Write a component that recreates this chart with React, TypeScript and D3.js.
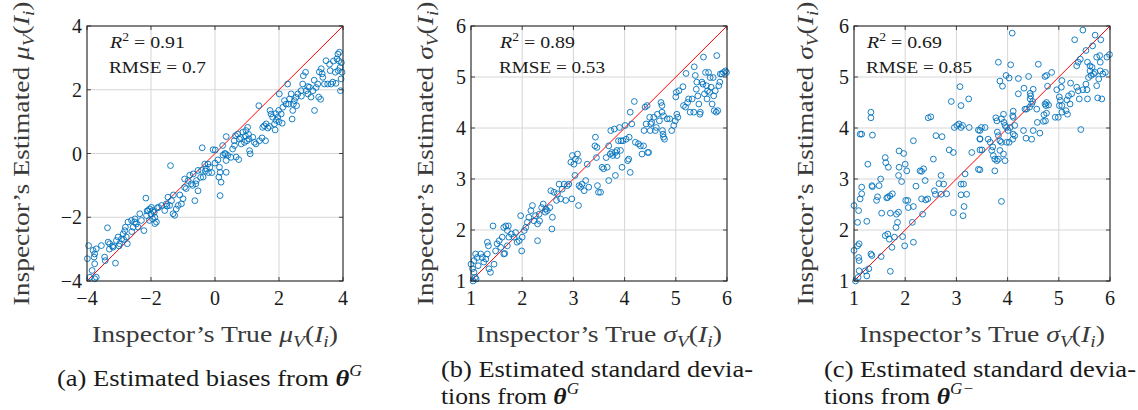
import React from "react";
import * as d3 from "d3";

// ---------- data ----------
const biasPoints: [number, number][] = [
  [-3.95,-2.89],[-3.81,-3.04],[-3.76,-3.15],[-3.71,-2.99],[-3.78,-3.25],[-3.99,-3.3],[-3.76,-3.46],[-3.84,-3.67],[-3.91,-3.88],[-3.71,-3.88],[-3.76,-3.93],
  [-3.55,-2.89],[-3.45,-3.25],[-3.43,-3.36],[-3.34,-2.78],[-3.36,-2.33],[-3.29,-2.83],[-3.19,-2.94],[-3.08,-2.73],[-3.11,-3.44],[-3.03,-2.62],[-2.98,-2.83],[-2.92,-2.68],[-2.87,-2.52],[-2.82,-2.42],[-2.8,-2.31],[-2.77,-2.62],[-2.72,-2.15],[-2.74,-2.83],
  [-2.61,-2.1],[-2.56,-2.31],[-2.51,-2.15],[-2.46,-2.21],[-2.4,-2.31],[-2.35,-1.89],[-2.3,-2.1],[-2.22,-2.42],[-2.16,-1.4],[-2.14,-1.95],[-2.09,-1.79],[-2.04,-1.74],[-1.99,-1.69],[-1.94,-1.79],[-1.88,-2.0],[-1.83,-2.15],[-1.88,-2.2],
  [-1.76,-1.69],[-1.67,-1.63],[-1.57,-1.79],[-1.52,-1.58],[-1.47,-1.37],[-1.42,-1.63],[-1.36,-1.48],[-1.31,-1.89],[-1.39,-0.38],
  [-1.26,-1.94],[-1.21,-1.74],[-1.15,-1.63],[-1.05,-1.58],[-1.0,-1.42],[-0.95,-1.06],[-0.95,-0.8],[-0.84,-0.85],[-0.79,-0.68],[-0.74,-0.95],[-0.68,-0.64],[-0.63,-1.48],[-0.58,-0.85],[-0.53,-0.53],[-0.42,-0.53],[-0.37,-0.74],[-0.53,-1.17],[-0.32,-0.33],[-0.27,-0.48],[-0.22,-0.33],[-0.16,-0.43],[-0.4,0.18],[-0.06,0.12],
  [0.01,0.11],[0.09,-0.2],[0.14,-0.43],[0.16,-0.59],[0.12,-0.74],[0.19,-0.9],[0.16,-1.32],[0.24,0.25],[0.35,0.53],[0.33,-0.01],[0.35,-0.22],[0.35,-0.59],[0.4,-0.06],[0.5,-0.12],[0.55,0.14],[0.61,0.25],[0.64,0.56],[0.66,-0.11],[0.74,-0.19],[0.71,0.61],[0.76,0.45],[0.82,0.3],[0.87,0.67],[0.92,0.35],[0.97,0.72],[1.02,0.82],[1.06,0.46],[1.08,0.09],[1.1,-0.01],[1.18,0.51],[1.23,0.35],[1.28,0.3],[1.37,1.5],[1.39,0.4],[1.47,0.49],[1.49,0.82],[1.54,0.87],[1.58,0.4],[1.6,0.93],[1.72,1.35],[1.75,1.24],[1.8,1.14],[1.86,0.93],[1.88,0.74],[1.91,1.04],[1.96,1.14],[1.99,1.35],[2.01,1.87],[2.07,1.24],[2.12,1.45],[2.17,1.66],[2.22,1.55],[2.27,2.18],[2.33,1.71],[2.38,1.87],[2.41,1.08],[2.43,1.35],[2.45,1.55],[2.48,1.66],[2.53,1.76],[2.59,1.87],
  [2.69,1.97],[2.74,2.18],[2.76,2.44],[2.83,2.55],[2.85,1.97],[2.9,1.87],[2.95,2.08],[3.0,1.77],[3.06,1.97],[3.11,1.35],[3.16,2.07],[3.21,2.18],[3.24,1.77],[3.26,2.56],[3.32,2.66],[3.37,2.39],[3.42,2.18],[3.47,2.91],[3.52,2.18],[3.58,2.8],[3.63,2.18],[3.68,2.24],[3.76,2.55],[3.81,2.97],[3.84,3.12],[3.89,3.18],[3.87,2.91],[3.91,2.7],[3.94,2.34],[3.92,1.97],[3.97,2.55],
  [-2.0,-1.9],[-1.95,-2.05],[-2.05,-2.1],[-1.9,-1.85],[-2.12,-1.8],[-1.8,-1.7],[3.6,2.6],[3.7,2.9],[3.78,2.2],[3.95,2.85],[3.85,2.6],[3.3,1.7],[3.35,2.5],[3.1,2.3],[2.9,2.1],[2.7,1.8],[2.55,1.5],[2.3,1.55],[2.0,1.0],[2.1,0.95],[1.9,1.25],[1.7,0.85],[1.65,0.8],[1.0,0.4],[1.05,0.6],[0.95,0.55],[0.8,0.5],[0.6,0.4],[0.3,0.0],[0.25,-0.05],[0.0,-0.3],[-0.1,-0.6],[-0.2,-0.6],[-0.3,-0.55],[-0.45,-0.75],[-0.6,-0.95],[-0.7,-1.0],[-0.9,-1.1],[-1.1,-1.3],[-1.3,-1.3],[-1.5,-1.65],[-2.5,-2.05],[-2.6,-2.45],[-2.85,-2.7],[-3.0,-2.9],[-3.2,-2.9],[-3.3,-3.0],
];

const sdPointsG: [number, number][] = [
  [1.0,1.33],[1.03,1.24],[1.06,1.17],[1.08,1.07],[1.1,1.04],[1.09,1.53],[1.12,1.46],[1.06,1.4],[1.14,1.3],[1.04,1.0],
  [1.19,1.53],[1.22,1.46],[1.25,1.37],[1.29,1.43],[1.32,1.53],[1.35,1.24],[1.38,1.17],[1.34,1.69],[1.32,1.76],[1.43,2.08],[1.45,1.33],
  [1.48,1.59],[1.51,1.73],[1.55,1.79],[1.58,1.66],[1.61,1.86],[1.64,2.05],[1.68,2.08],[1.71,1.99],[1.73,2.08],[1.66,1.54],[1.64,1.53],[1.71,1.69],
  [1.74,1.86],[1.79,1.92],[1.84,1.86],[1.87,1.95],[1.9,1.76],[1.94,1.79],[1.97,2.28],[1.99,1.59],[2.0,1.86],[2.04,1.99],
  [2.07,2.05],[2.1,2.15],[2.13,2.25],[2.17,2.38],[2.2,2.48],[2.23,2.18],[2.26,2.28],[2.3,2.12],[2.3,1.79],[2.33,2.31],[2.34,2.18],[2.38,2.44],[2.41,2.51],[2.45,2.35],[2.46,2.41],[2.49,2.38],[2.54,2.44],[2.58,2.02],[2.59,2.25],
  [2.56,2.77],[2.62,2.74],[2.67,2.58],[2.69,2.71],[2.72,2.9],[2.75,2.61],[2.78,2.8],[2.82,2.9],[2.85,2.58],[2.88,2.87],[2.91,2.9],[2.97,2.61],
  [2.95,3.33],[2.98,3.46],[3.01,3.29],[3.04,3.39],[3.08,3.49],[3.1,3.36],[3.03,3.07],[3.1,2.48],[3.11,2.87],[3.14,2.84],[3.17,2.9],[3.21,2.77],[3.24,2.97],[3.27,3.29],[3.3,2.84],
  [3.43,3.82],[3.42,3.65],[3.45,3.42],[3.47,2.87],
  [3.46,3.62],[3.49,2.74],[3.53,2.74],[3.56,3.23],[3.59,3.2],[3.64,3.42],[3.66,3.23],[3.69,3.65],[3.69,2.97],[3.72,3.49],[3.73,3.95],[3.75,3.52],[3.77,3.46],[3.8,3.98],[3.82,3.52],[3.82,3.07],[3.85,3.56],[3.85,3.46],[3.88,3.75],[3.9,4.01],[3.92,3.56],[3.93,3.75],[3.95,3.23],[3.97,3.75],[4.01,4.05],[4.03,3.78],[4.06,3.36],[4.08,3.39],[4.09,3.82],[4.11,3.13],[4.11,4.31],[4.14,4.08],[4.19,4.52],[4.21,3.72],[4.27,3.69],[4.31,3.65],[4.34,3.49],[4.37,3.65],[4.38,3.95],[4.4,4.41],[4.42,4.08],[4.44,4.44],[4.45,3.52],[4.47,3.52],[4.49,4.21],[4.5,3.95],[4.51,4.08],[4.53,4.11],[4.57,4.21],[4.6,3.95],[4.62,4.01],[4.64,4.27],[4.68,4.14],[4.71,4.5],[4.73,4.44],[4.73,4.31],[4.74,3.95],[4.75,3.88],[4.76,3.82],[4.78,3.78],[4.76,4.24],[4.83,4.18],[4.88,4.18],[4.92,3.95],[4.96,4.05],[4.99,4.14],[5.0,4.61],[5.01,4.7],[5.02,4.27],[5.04,4.21],[5.06,4.73],[5.14,4.81],[5.15,4.44],[5.19,4.41],[5.2,5.07],[5.23,4.5],[5.25,4.57],[5.28,4.31],[5.32,4.57],[5.35,4.31],[5.36,5.2],[5.38,5.03],[5.4,4.76],[5.41,4.9],[5.43,4.63],[5.45,4.47],[5.47,4.27],[5.48,4.31],[5.51,4.9],[5.53,4.86],[5.54,5.39],[5.56,4.67],[5.58,5.09],[5.6,4.83],[5.61,4.57],[5.62,4.73],[5.64,5.09],[5.66,4.7],[5.67,4.99],[5.69,4.8],[5.71,4.47],[5.73,4.99],[5.74,4.63],[5.75,4.34],[5.77,4.73],[5.79,4.31],[5.8,5.42],[5.82,4.34],[5.84,4.83],[5.86,4.9],[5.87,5.06],[5.9,5.06],[5.93,5.09],[5.97,5.12],[5.99,5.09],
];

const sdPointsGminus: [number, number][] = [
  [1.03,1.0],[1.08,1.07],[1.1,1.2],[1.25,1.1],[1.22,1.2],[1.29,1.24],[1.0,1.6],[1.07,1.69],[1.1,1.73],[1.09,1.46],[1.1,1.4],[1.33,1.53],[1.35,1.5],[1.53,1.48],[1.71,1.19],[1.74,1.66],[1.61,1.89],[1.66,1.92],[1.69,1.82],[1.82,2.05],[1.85,2.15],[1.79,1.86],[1.95,1.87],[1.99,1.69],[2.16,1.76],[2.14,2.15],
  [1.0,2.48],[1.07,2.15],[1.09,2.38],[1.12,2.61],[1.15,2.71],[1.15,2.84],[1.25,2.17],[1.35,2.87],[1.44,2.58],[1.46,2.65],[1.54,2.33],[1.64,2.63],[1.66,2.64],[1.7,2.67],[1.75,2.71],[1.71,2.33],[1.83,2.31],[1.87,2.35],[1.52,3.0],[1.49,2.87],[1.36,2.85],
  [1.27,3.29],[1.61,3.42],[1.62,3.32],[1.67,3.23],[1.88,3.55],[1.97,3.5],[1.87,3.07],[1.93,2.95],[2.03,3.16],[2.01,2.58],[2.05,2.58],[2.06,2.44],[2.16,2.46],[2.21,2.86],[2.29,3.16],[2.36,3.2],[2.39,2.97],[2.32,2.61],[2.4,2.59],[2.44,2.61],[2.34,2.31],
  [1.12,3.88],[1.15,3.88],[1.36,3.86],[1.33,4.31],[1.33,4.2],[2.16,3.75],[1.88,3.23],[2.0,3.29],[2.32,3.15],
  [2.59,2.7],[2.57,2.77],[2.66,2.91],[2.7,2.7],[2.75,2.9],[2.81,2.71],[2.7,3.07],[2.94,2.34],[2.55,3.39],
  [2.45,4.2],[2.5,4.22],[2.6,3.85],[2.72,3.83],[2.86,3.57],[2.94,3.52],[2.9,4.52],[3.07,4.81],[3.09,4.44],[3.24,4.57],[2.96,4.01],[3.01,4.05],[3.05,4.08],[3.09,4.01],[3.12,4.05],[3.25,4.01],[3.3,3.52],[3.43,3.96],[3.46,3.79],[3.5,3.57],[3.43,3.19],[3.09,2.9],[3.14,2.9],[3.17,3.1],[3.09,2.69],[3.2,2.7],[3.15,2.46],[3.13,2.28],
  [4.09,5.86],[5.47,5.92],[5.31,5.73],[5.71,5.82],[5.82,5.73],[3.82,5.29],[4.06,5.24],[4.6,5.25],[3.97,5.03],[4.03,4.98],[3.85,4.92],[3.9,4.82],[4.21,4.97],[4.41,5.01],[4.73,5.01],[4.76,5.03],[4.86,5.09],[4.78,4.82],[4.32,4.78],[4.5,4.76],[4.44,4.68],[4.21,4.67],[4.45,4.63],[4.44,4.57],[5.06,4.93],[5.05,4.8],[4.96,4.75],[5.23,4.88],[5.25,4.67],[5.19,4.63],[5.16,4.55],[5.01,4.61],[5.03,4.54],[5.01,4.44],[5.06,4.44],[5.22,4.47],[5.14,4.34],[5.17,4.27],[4.93,4.21],[4.99,4.21],[5.06,4.31],
  [4.73,4.47],[4.76,4.5],[4.75,4.44],[4.8,4.45],[4.71,4.26],[4.76,4.29],[4.58,4.11],[4.7,4.13],[4.74,4.14],[4.57,4.37],[4.47,4.47],[4.43,4.41],[4.49,4.52],[4.34,4.37],[4.37,4.37],[4.11,4.33],[4.1,4.24],[4.14,4.05],[4.11,4.21],[3.92,4.27],[3.88,4.18],[3.77,4.2],[3.79,4.14],[3.93,4.11],[3.95,4.05],[3.98,4.01],[4.05,4.01],[4.11,3.88],[4.01,3.95],[4.14,3.85],[4.1,3.78],[4.03,3.72],[3.98,3.72],[3.88,3.72],[3.85,3.75],[3.8,3.92],[3.82,3.85],
  [3.56,4.01],[3.49,4.01],[3.46,3.95],[3.46,3.78],[3.46,3.57],[3.62,3.78],[3.66,3.72],[3.71,3.63],[3.69,3.56],[3.72,3.46],[3.75,3.39],[3.79,3.36],[3.82,3.39],[3.85,3.56],[3.92,3.49],[3.95,3.36],[3.75,3.16],[3.88,2.56],[3.46,3.18],
  [4.31,3.95],[4.36,3.8],[4.47,3.78],[4.5,3.95],[4.63,3.9],[5.43,3.97],
  [5.35,4.8],[5.38,4.73],[5.4,4.57],[5.47,4.75],[5.55,4.75],[5.56,4.57],[5.53,4.86],[5.58,4.99],[5.61,5.12],[5.65,5.19],[5.68,5.06],[5.71,5.09],[5.74,4.83],[5.78,4.96],[5.81,5.12],[5.84,4.57],[5.76,4.59],[5.86,5.06],[5.91,5.09],[5.94,5.39],[5.99,5.44],[5.8,5.42],[5.74,5.39],[5.81,5.29],[5.61,5.22],[5.53,5.52],[5.56,5.29],[5.63,5.03],[5.66,5.61],[5.38,5.29],[5.35,5.22],[5.42,5.35],
];

const biasTicks = [-4, -2, 0, 2, 4];
const sdTicks = [1, 2, 3, 4, 5, 6];
const r2Labels = ["0.91", "0.89", "0.69"];
const rmseLabels = ["0.7", "0.53", "0.85"];

// ---------- layout ----------
const W = 1138, H = 410;
const PT = 26, PH = 255, PW = 256;
const FONT = "'Liberation Serif', 'Times New Roman', serif";
const BLUE = "#0072BD";
const TXT = "#1a1a1a";

type PanelCfg = {
  left: number; domain: [number, number]; ticks: number[]; data: [number, number][];
  sym: string; statDx: number; ylabX: number; r2: string; rmse: string;
};

const panels: PanelCfg[] = [
  { left: 87, domain: [-4, 4], ticks: biasTicks, data: biasPoints, sym: "μ", statDx: 23, ylabX: 29, r2: r2Labels[0], rmse: rmseLabels[0] },
  { left: 471, domain: [1, 6], ticks: sdTicks, data: sdPointsG, sym: "σ", statDx: 29, ylabX: 433, r2: r2Labels[1], rmse: rmseLabels[1] },
  { left: 854, domain: [1, 6], ticks: sdTicks, data: sdPointsGminus, sym: "σ", statDx: 13, ylabX: 813, r2: r2Labels[2], rmse: rmseLabels[2] },
];

const fmt = (v: number) => (v < 0 ? "\u2212" + Math.abs(v) : String(v));

function MathVI({ sym, size }: { sym: string; size: number }) {
  const s = size * 0.7;
  const d = size * 0.22;
  return (
    <>
      <tspan fontStyle="italic">{sym}</tspan>
      <tspan fontStyle="italic" fontSize={s} dy={d}>V</tspan>
      <tspan dy={-d}>(</tspan>
      <tspan fontStyle="italic">I</tspan>
      <tspan fontStyle="italic" fontSize={s} dy={d}>i</tspan>
      <tspan dy={-d}>)</tspan>
    </>
  );
}

function Panel({ p }: { p: PanelCfg }) {
  const x = d3.scaleLinear().domain(p.domain).range([p.left, p.left + PW]);
  const y = d3.scaleLinear().domain(p.domain).range([PT + PH, PT]);
  const cx = p.left + PW / 2;
  const cy = PT + PH / 2;
  const tl = 4;
  return (
    <g>
      {p.ticks.map((t) => (
        <g key={"g" + t}>
          <line x1={x(t)} x2={x(t)} y1={PT} y2={PT + PH} stroke="#d6d6d6" strokeWidth={1} />
          <line x1={p.left} x2={p.left + PW} y1={y(t)} y2={y(t)} stroke="#d6d6d6" strokeWidth={1} />
        </g>
      ))}
      {p.ticks.map((t) => (
        <g key={"t" + t} stroke="#444" strokeWidth={1}>
          <line x1={x(t)} x2={x(t)} y1={PT + PH} y2={PT + PH - tl} />
          <line x1={x(t)} x2={x(t)} y1={PT} y2={PT + tl} />
          <line x1={p.left} x2={p.left + tl} y1={y(t)} y2={y(t)} />
          <line x1={p.left + PW} x2={p.left + PW - tl} y1={y(t)} y2={y(t)} />
        </g>
      ))}
      <line x1={x(p.domain[0])} y1={y(p.domain[0])} x2={x(p.domain[1])} y2={y(p.domain[1])} stroke="#ff0000" strokeWidth={1} />
      {p.data.map((d, i) => (
        <circle key={i} cx={x(d[0])} cy={y(d[1])} r={2.9} fill="none" stroke={BLUE} strokeWidth={0.9} />
      ))}
      <rect x={p.left} y={PT} width={PW} height={PH} fill="none" stroke={TXT} strokeWidth={1} />
      {p.ticks.map((t) => (
        <text key={"xl" + t} x={x(t)} y={305} textAnchor="middle" fontSize={20} fill={TXT} fontFamily={FONT}>{fmt(t)}</text>
      ))}
      {p.ticks.map((t) => (
        <text key={"yl" + t} x={p.left - 5} y={y(t) + 7} textAnchor="end" fontSize={20} fill={TXT} fontFamily={FONT}>{fmt(t)}</text>
      ))}
      <text x={p.left + p.statDx} y={48} fontSize={17.5} fill={TXT} fontFamily={FONT} textLength={75} lengthAdjust="spacingAndGlyphs">
        <tspan fontStyle="italic">R</tspan>
        <tspan fontSize={12} dy={-7}>2</tspan>
        <tspan dy={7}>{" = " + p.r2}</tspan>
      </text>
      <text x={p.left + p.statDx - 1} y={73} fontSize={17.5} fill={TXT} fontFamily={FONT} textLength={p.rmse.length === 3 ? 97 : 106} lengthAdjust="spacingAndGlyphs">{"RMSE = " + p.rmse}</text>
      <text x={cx} y={342} textAnchor="middle" fontSize={24} fill="#3a3a3a" fontFamily={FONT} textLength={246} lengthAdjust="spacingAndGlyphs">
        <tspan>Inspector’s True </tspan>
        <MathVI sym={p.sym} size={24} />
      </text>
      <text transform={`translate(${p.ylabX},${cy}) rotate(-90)`} textAnchor="middle" fontSize={24} fill="#3a3a3a" fontFamily={FONT} textLength={304} lengthAdjust="spacingAndGlyphs">
        <tspan>Inspector’s Estimated </tspan>
        <MathVI sym={p.sym} size={24} />
      </text>
    </g>
  );
}

function Theta({ sup }: { sup: string }) {
  return (
    <>
      <tspan fontStyle="italic" fontWeight="bold">θ</tspan>
      <tspan fontStyle="italic" fontSize={16} dy={-10}>{sup}</tspan>
    </>
  );
}

export default function App() {
  return (
    <svg width={W} height={H} style={{ position: "absolute", left: 0, top: 0, background: "#fff" }}>
      <rect x={0} y={0} width={W} height={H} fill="#fff" />
      {panels.map((p, i) => (
        <Panel key={i} p={p} />
      ))}
      <text x={57} y={386} fontSize={24} fill={TXT} fontFamily={FONT} textLength={305} lengthAdjust="spacingAndGlyphs">
        <tspan>(a) Estimated biases from </tspan>
        <Theta sup="G" />
      </text>
      <text x={441} y={377} fontSize={24} fill={TXT} fontFamily={FONT} textLength={312} lengthAdjust="spacingAndGlyphs">(b) Estimated standard devia-</text>
      <text x={441} y={404} fontSize={24} fill={TXT} fontFamily={FONT} textLength={138} lengthAdjust="spacingAndGlyphs">
        <tspan>tions from </tspan>
        <Theta sup="G" />
      </text>
      <text x={824} y={377} fontSize={24} fill={TXT} fontFamily={FONT} textLength={312} lengthAdjust="spacingAndGlyphs">(c) Estimated standard devia-</text>
      <text x={824} y={404} fontSize={24} fill={TXT} fontFamily={FONT} textLength={150} lengthAdjust="spacingAndGlyphs">
        <tspan>tions from </tspan>
        <Theta sup="G−" />
      </text>
    </svg>
  );
}
